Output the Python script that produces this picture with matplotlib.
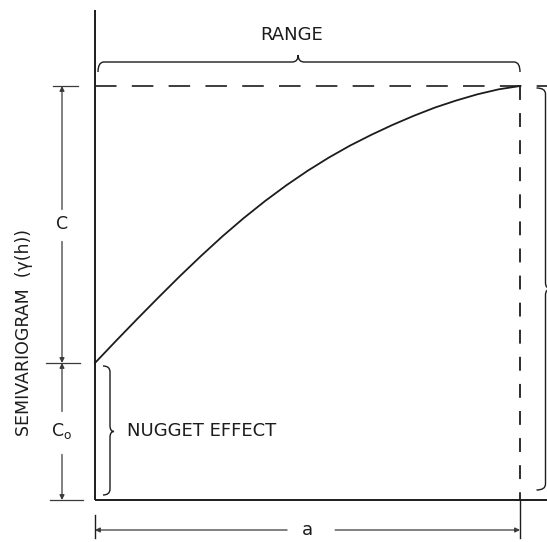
import matplotlib.pyplot as plt
from matplotlib.path import Path
from matplotlib.patches import PathPatch

# semivariogram: lag as fraction of the range a, gamma as fraction of the sill
lag = [0.0, 0.05, 0.10, 0.15, 0.20, 0.25, 0.30, 0.35, 0.40, 0.45, 0.50,
       0.55, 0.60, 0.65, 0.70, 0.75, 0.80, 0.85, 0.90, 0.95, 1.0]
gamma = [0.331, 0.385, 0.438, 0.490, 0.541, 0.590, 0.637, 0.681, 0.722, 0.760, 0.795,
         0.827, 0.856, 0.882, 0.906, 0.928, 0.948, 0.965, 0.980, 0.992, 1.000]
nugget = 0.331
sill = 1.0
range_a = 1.0

ylabel_text = "SEMIVARIOGRAM  (γ(h))"
range_text = "RANGE"
nugget_text = "NUGGET EFFECT"
c_text = "C"
c0_text = "C$_{\\rm o}$"
a_text = "a"

# page layout (pixels of the 547x542 picture)
W, H = 547, 542
X0, Y0 = 95, 500      # where the origin sits
SX, SY = 425, 414     # pixels per unit lag / per unit gamma

plt.rcParams['lines.scale_dashes'] = False
plt.rcParams['font.family'] = 'DejaVu Sans'

ink = '#1c1c1c'
thin = '#3a3a3a'


def dx(p):
    return p / SX


def dy(p):
    return p / SY


def hbrace(ax, x0, x1, y, hook, tip, tipx, r, **kw):
    # horizontal curly brace, hooks down, tip up
    v = [(x0, y - hook), (x0, y), (x0 + r, y), (tipx - r, y), (tipx, y), (tipx, y + tip),
         (tipx, y), (tipx + r, y), (x1 - r, y), (x1, y), (x1, y - hook)]
    c = [Path.MOVETO, Path.CURVE3, Path.CURVE3, Path.LINETO, Path.CURVE3, Path.CURVE3,
         Path.CURVE3, Path.CURVE3, Path.LINETO, Path.CURVE3, Path.CURVE3]
    ax.add_patch(PathPatch(Path(v, c), fill=False, **kw))


def vbrace(ax, y0, y1, x, hook, tip, tipy, r, **kw):
    # vertical curly brace, hooks left, tip right
    v = [(x - hook, y1), (x, y1), (x, y1 - r), (x, tipy + r), (x, tipy), (x + tip, tipy),
         (x, tipy), (x, tipy - r), (x, y0 + r), (x, y0), (x - hook, y0)]
    c = [Path.MOVETO, Path.CURVE3, Path.CURVE3, Path.LINETO, Path.CURVE3, Path.CURVE3,
         Path.CURVE3, Path.CURVE3, Path.LINETO, Path.CURVE3, Path.CURVE3]
    ax.add_patch(PathPatch(Path(v, c), fill=False, **kw))


fig = plt.figure(figsize=(W / 100, H / 100), dpi=100)
ax = fig.add_axes([0, 0, 1, 1])
ax.set_xlim(-X0 / SX, (W - X0) / SX)
ax.set_ylim(-(H - Y0) / SY, Y0 / SY)
ax.axis('off')

xmax = (W - X0) / SX

# axes
ax.plot([0, 0], [0, Y0 / SY - dy(10)], color=ink, lw=1.4, solid_capstyle='butt')
ax.plot([0, xmax], [0, 0], color=ink, lw=1.4, solid_capstyle='butt')

# sill and range reference lines
ax.plot([0, xmax], [sill, sill], color=ink, lw=1.2, dashes=(15.5, 11))
ax.plot([range_a, range_a], [sill, 0], color=ink, lw=1.3, dashes=(10, 9.5))
ax.plot([range_a, range_a], [0, -dy(38)], color=ink, lw=1.0)

# the model curve
ax.plot(lag, gamma, color=ink, lw=1.3, solid_joinstyle='round')

# left dimension line: C and Co
xd = -dx(33)
arr = dict(arrowstyle='-|>', color=thin, lw=0.9, mutation_scale=7, shrinkA=0, shrinkB=0)
c_mid = (nugget + sill) / 2
c0_mid = nugget / 2
ax.annotate('', xy=(xd, sill), xytext=(xd, c_mid + dy(15)), arrowprops=arr)
ax.annotate('', xy=(xd, nugget), xytext=(xd, c_mid - dy(17)), arrowprops=arr)
ax.annotate('', xy=(xd, nugget), xytext=(xd, c0_mid + dy(20)), arrowprops=arr)
ax.annotate('', xy=(xd, 0), xytext=(xd, c0_mid - dy(23)), arrowprops=arr)
ax.plot([xd - dx(9), xd + dx(16)], [sill, sill], color=thin, lw=0.9)
ax.plot([xd - dx(16), xd + dx(18)], [nugget, nugget], color=thin, lw=0.9)
ax.plot([xd - dx(12), xd + dx(21)], [0, 0], color=thin, lw=0.9)
ax.text(xd, c_mid, c_text, ha='center', va='center', fontsize=12.5, color=ink)
ax.text(xd, c0_mid, c0_text, ha='center', va='center', fontsize=12.5, color=ink)

# bottom dimension line: a
yb = -dy(30)
ax.annotate('', xy=(0, yb), xytext=(range_a * 0.452, yb), arrowprops=arr)
ax.annotate('', xy=(range_a, yb), xytext=(range_a * 0.565, yb), arrowprops=arr)
ax.plot([0, 0], [-dy(15), -dy(38)], color=ink, lw=1.0)
ax.text(range_a * 0.501, yb, a_text, ha='center', va='center', fontsize=13, color=ink)

# braces
hbrace(ax, dx(3), range_a, sill + dy(24), dy(10), dy(7), range_a * 0.478, dx(6),
       color=ink, lw=1.0)
ax.text(range_a * 0.4635, sill + dy(51), range_text, ha='center', va='center',
        fontsize=13, color=ink)
vbrace(ax, dy(5), nugget - dy(3), dx(15), dx(7), dx(4), c0_mid, dy(6), color=ink, lw=1.0)
ax.text(dx(32), c0_mid, nugget_text, ha='left', va='center', fontsize=13, color=ink)
vbrace(ax, dy(10), sill - dy(2), xmax - dx(1.5), dx(9), dx(6), (sill + 0.02) / 2, dy(6),
       color=ink, lw=1.0)

# axis title
ax.text(-dx(71), dy(Y0 - 332), ylabel_text, rotation=90, ha='center', va='center',
        fontsize=12.5, color=ink)

fig.savefig('out.png', dpi=100, facecolor='white')
